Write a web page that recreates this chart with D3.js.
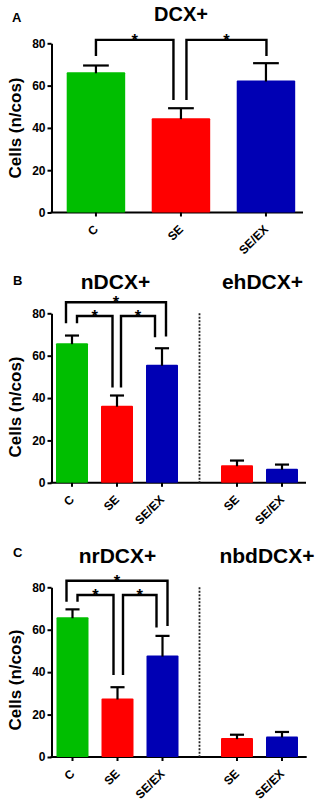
<!DOCTYPE html>
<html>
<head>
<meta charset="utf-8">
<script src="https://cdn.jsdelivr.net/npm/d3@7"></script>
<style>
  body { margin: 0; background: #fff; }
  svg { display: block; }
  text { font-family: "Liberation Sans", Arial, sans-serif; font-weight: bold; fill: #000; }
</style>
</head>
<body>
<svg id="drawing_region"></svg>
<script>
// ---- data ----
const yTicks = [0, 20, 40, 60, 80];

// A: DCX+
const dcxCats = ["C", "SE", "SE/EX"];
const dcxMean = [66.3, 44.6, 62.4];
const dcxSem  = [3.2, 4.7, 8.2];

// B: nDCX+ / ehDCX+
const nDcxCats = ["C", "SE", "SE/EX"];
const nDcxMean = [65.9, 36.4, 55.7];
const nDcxSem  = [3.6, 4.8, 7.8];
const ehDcxCats = ["SE", "SE/EX"];
const ehDcxMean = [8.3, 6.6];
const ehDcxSem  = [2.2, 2.0];

// C: nrDCX+ / nbdDCX+
const nrDcxCats = ["C", "SE", "SE/EX"];
const nrDcxMean = [65.9, 27.6, 47.8];
const nrDcxSem  = [3.7, 5.3, 9.3];
const nbdDcxCats = ["SE", "SE/EX"];
const nbdDcxMean = [8.9, 9.7];
const nbdDcxSem  = [1.6, 2.1];

// significance brackets: [from, to, top value, left leg end, right leg end]
const dcxSig   = [["C", "SE", 81.6, 74, 53.2], ["SE", "SE/EX", 81.6, 53.2, 74]];
const nDcxSig  = [["C", "SE/EX", 85.2, 75.3, 69], ["C", "SE", 78.7, 75.3, 45], ["SE", "SE/EX", 78.7, 45, 68.7]];
const nrDcxSig = [["C", "SE/EX", 83.1, 73.2, 61.8], ["C", "SE", 76.4, 73.2, 38.7], ["SE", "SE/EX", 76.4, 38.7, 61]];

// ---- style / layout ----
const colors = { "C": "#00BE00", "SE": "#FF0000", "SE/EX": "#0000B4" };
const legOffsets = {
  A: [[0, -7.5], [5.5, 0.5]],
  B: [[-6, 4], [5, -4.5], [4, -7]],
  C: [[-6, 5], [5, -4], [5.5, -6]]
};

const svg = d3.select("#drawing_region").attr("width", 325).attr("height", 803);

function drawPanel(p) {
  const g = svg.append("g");
  const y = d3.scaleLinear().domain([0, 80]).range([p.y0, p.y80]);

  // panel letter
  g.append("text").attr("x", p.letter[0]).attr("y", p.letter[1])
    .style("font-size", "13px").text(p.letter[2]);

  // y axis
  const yAxis = d3.axisLeft(y).tickValues(yTicks).tickSize(4).tickPadding(2).tickSizeOuter(0);
  const ya = g.append("g").attr("transform", `translate(${p.ax},0)`).call(yAxis);
  ya.selectAll("path, line").attr("stroke", "#000").attr("stroke-width", 2);
  ya.selectAll("text").style("font-size", "12px").style("font-family", "Liberation Sans, Arial, sans-serif").style("font-weight", "bold");

  g.append("text")
    .attr("transform", `translate(${p.ylab[0]},${p.ylab[1]}) rotate(-90)`)
    .attr("text-anchor", "middle").style("font-size", "17px")
    .text("Cells (n/cos)");

  // x baseline
  g.append("line").attr("x1", p.ax - 1).attr("x2", p.xEnd)
    .attr("y1", p.y0).attr("y2", p.y0).attr("stroke", "#000").attr("stroke-width", 2);

  p.groups.forEach(grp => {
    const data = grp.cats.map((c, i) => ({ cat: c, mean: grp.mean[i], sem: grp.sem[i] }));
    const x = d3.scaleBand().domain(grp.cats).range(grp.range).paddingInner(grp.pad).paddingOuter(0);
    const bw = x.bandwidth();

    // title
    g.append("text").attr("x", grp.title[1]).attr("y", grp.title[2])
      .attr("text-anchor", "middle").style("font-size", grp.title[3] + "px").text(grp.title[0]);

    g.selectAll(null).data(data).enter().append("rect")
      .attr("x", d => x(d.cat)).attr("width", bw)
      .attr("y", d => y(d.mean)).attr("height", d => y(0) - y(d.mean))
      .attr("fill", d => colors[d.cat]).attr("rx", 1);

    // error bars (upper only)
    const eb = g.selectAll(null).data(data).enter().append("g");
    eb.append("line")
      .attr("x1", d => x(d.cat) + bw / 2).attr("x2", d => x(d.cat) + bw / 2)
      .attr("y1", d => y(d.mean) + 1).attr("y2", d => y(d.mean + d.sem))
      .attr("stroke", "#000").attr("stroke-width", 2.2);
    eb.append("line")
      .attr("x1", d => x(d.cat) + bw / 2 - bw * 0.22).attr("x2", d => x(d.cat) + bw / 2 + bw * 0.22)
      .attr("y1", d => y(d.mean + d.sem)).attr("y2", d => y(d.mean + d.sem))
      .attr("stroke", "#000").attr("stroke-width", 2.2);

    // x axis ticks + rotated labels
    const xAxis = d3.axisBottom(x).tickSize(4).tickSizeOuter(0);
    const xa = g.append("g").attr("transform", `translate(0,${p.y0})`).call(xAxis);
    xa.select(".domain").remove();
    xa.selectAll("line").attr("stroke", "#000").attr("stroke-width", 2);
    xa.selectAll("text")
      .attr("y", 0).attr("dy", 0)
      .attr("text-anchor", "end")
      .attr("transform", "translate(3,17.5) rotate(-45)")
      .style("font-size", "12px").style("font-family", "Liberation Sans, Arial, sans-serif").style("font-weight", "bold");

    // brackets
    if (grp.sig) {
      grp.sig.forEach((s, si) => {
        const off = grp.legs[si];
        const xl = x(s[0]) + bw / 2 + off[0];
        const xr = x(s[1]) + bw / 2 + off[1];
        const path = d3.path();
        path.moveTo(xl, y(s[3]));
        path.lineTo(xl, y(s[2]));
        path.lineTo(xr, y(s[2]));
        path.lineTo(xr, y(s[4]));
        g.append("path").attr("d", path.toString())
          .attr("fill", "none").attr("stroke", "#000").attr("stroke-width", 2.4)
          .attr("stroke-linejoin", "miter");
        g.append("text").attr("x", (xl + xr) / 2).attr("y", y(s[2]) + 6)
          .attr("text-anchor", "middle").style("font-size", "16.5px").text("*");
      });
    }
  });

  if (p.divider) {
    g.append("line").attr("x1", p.divider).attr("x2", p.divider)
      .attr("y1", p.y80).attr("y2", p.y0)
      .attr("stroke", "#222").attr("stroke-width", 1.8).attr("stroke-dasharray", "2,1.5");
  }
}

drawPanel({
  letter: [12, 21.5, "A"], ax: 51.5, xEnd: 303, y0: 212.5, y80: 43.3, ylab: [21, 128],
  groups: [
    { cats: dcxCats, mean: dcxMean, sem: dcxSem, range: [66.7, 295.2], pad: 0.312,
      title: ["DCX+", 181, 20.5, 20], sig: dcxSig, legs: legOffsets.A }
  ]
});

drawPanel({
  letter: [13, 285, "B"], ax: 51.5, xEnd: 306, y0: 482.8, y80: 313.3, ylab: [21, 407], divider: 199.5,
  groups: [
    { cats: nDcxCats, mean: nDcxMean, sem: nDcxSem, range: [56, 178], pad: 0.289,
      title: ["nDCX+", 115.5, 288.5, 21], sig: nDcxSig, legs: legOffsets.B },
    { cats: ehDcxCats, mean: ehDcxMean, sem: ehDcxSem, range: [221, 298], pad: 0.289,
      title: ["ehDCX+", 262.5, 288.5, 21] }
  ]
});

drawPanel({
  letter: [13, 556.5, "C"], ax: 51.5, xEnd: 306.7, y0: 757, y80: 587.3, ylab: [21, 680], divider: 199.5,
  groups: [
    { cats: nrDcxCats, mean: nrDcxMean, sem: nrDcxSem, range: [56.5, 178.5], pad: 0.289,
      title: ["nrDCX+", 117.5, 562.5, 21], sig: nrDcxSig, legs: legOffsets.C },
    { cats: nbdDcxCats, mean: nbdDcxMean, sem: nbdDcxSem, range: [221, 298], pad: 0.289,
      title: ["nbdDCX+", 267, 562.5, 21] }
  ]
});
</script>
</body>
</html>
